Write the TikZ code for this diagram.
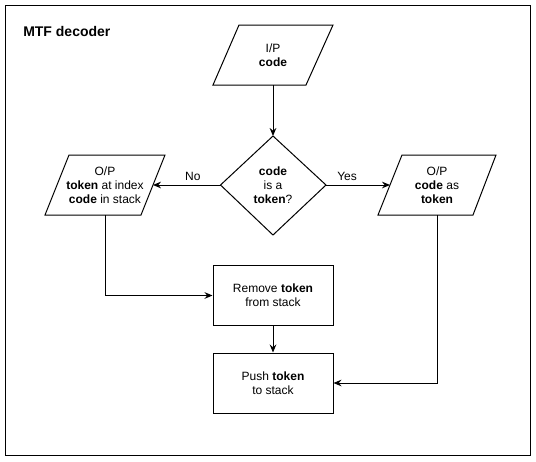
\documentclass[tikz,border=0pt]{standalone}
\usepackage{fontspec}
\setmainfont{Liberation Sans}
\usetikzlibrary{shapes.geometric,arrows.meta}
\begin{document}
\begin{tikzpicture}[x=0.75pt,y=-0.75pt,
  every node/.style={font=\fontsize{9}{10.5}\selectfont, align=center, inner sep=0pt},
  line/.style={draw=black, line width=0.75pt},
  arr/.style={line, -{Stealth[length=6pt,width=5pt,inset=2pt]}},
  proc/.style={line, rectangle, minimum width=90pt, minimum height=45pt},
  lab/.style={font=\fontsize{9}{10.5}\selectfont}
]
\useasboundingbox (0,0) rectangle (536,461);
\draw[line] (5.5,5.5) rectangle (530,455);
\node[anchor=west, font=\bfseries\fontsize{10.5}{12}\selectfont] (title) at (23,31) {MTF decoder};

\path[line] (239,25) -- (333,25) -- (306,85) -- (213,85) -- cycle;
\node (ip) at (273,55) {I/P\\\textbf{code}};
\coordinate (ipb) at (273,85);

\path[line] (273,136) -- (326,185) -- (273,235) -- (220.5,185) -- cycle;
\node (dec) at (273,185) {\textbf{code}\\is a\\\textbf{token}?};
\coordinate (dect) at (273,136);
\coordinate (decl) at (220.5,185);
\coordinate (decr) at (326,185);

\path[line] (69,155) -- (165,155) -- (141,215) -- (45,215) -- cycle;
\node (opl) at (105,185) {O/P\\\textbf{token} at index\\\textbf{code} in stack};
\coordinate (oplr) at (153,185);
\coordinate (oplb) at (105.5,215);

\path[line] (402,155) -- (496,155) -- (473,215) -- (378,215) -- cycle;
\node (opr) at (437,185) {O/P\\\textbf{code} as\\\textbf{token}};
\coordinate (oprl) at (390,185);
\coordinate (oprb) at (437.5,215);

\node[proc] (rem) at (273,295.5) {Remove \textbf{token}\\from stack};
\node[proc] (push) at (273,383) {Push \textbf{token}\\to stack};

\draw[arr] (ipb) -- (dect);
\draw[arr] (decl) -- node[pos=0.41, above=3pt, lab] {No} (oplr);
\draw[arr] (decr) -- node[pos=0.33, above=3pt, lab] {Yes} (oprl);
\draw[arr] (oplb) |- (rem.west);
\draw[arr] (rem.south) -- (push.north);
\draw[arr] (oprb) |- (push.east);
\end{tikzpicture}
\end{document}
